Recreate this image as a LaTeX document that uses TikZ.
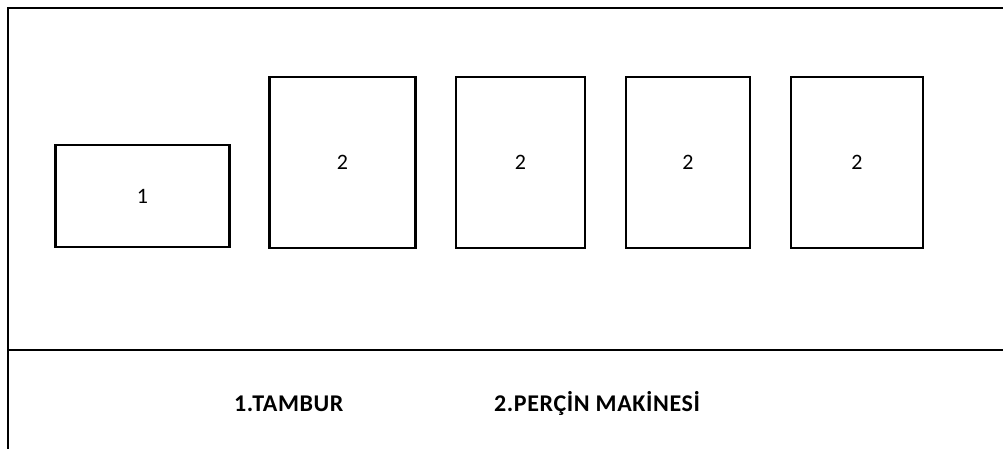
\documentclass[tikz,border=0pt]{standalone}
\usepackage{fontspec}
\setmainfont{Carlito}
\begin{document}
\begin{tikzpicture}[x=1pt,y=-1pt,
  unit/.style={draw,line width=2.5pt,inner sep=0pt,font=\fontsize{22}{26}\selectfont},
  legend/.style={font=\bfseries\fontsize{24}{28}\selectfont\addfontfeature{LetterSpace=2.5},
    anchor=base west,inner sep=0pt},
  frame/.style={line width=2.6pt}]
  \useasboundingbox (0,0) rectangle (1003,449);
  % outer frame and legend divider
  \draw[frame] (8,449) -- (8,8) -- (1003,8);
  \draw[line width=2.3pt] (8,350) -- (1003,350);
  % drum
  \node[unit,minimum width=174pt,minimum height=102pt] (tambur) at (142.5,196) {1};
  % rivet machines
  \node[unit,minimum width=146pt,minimum height=171pt] (m1) at (342.5,162.5) {2};
  \node[unit,minimum width=129pt,minimum height=171pt] (m2) at (520.5,162.5) {2};
  \node[unit,minimum width=124pt,minimum height=171pt] (m3) at (688,162.5) {2};
  \node[unit,minimum width=132pt,minimum height=171pt] (m4) at (857,162.5) {2};
  % legend
  \node[legend] (l1) at (234,411) {1.TAMBUR};
  \node[legend] (l2) at (494,411) {2.PERÇİN MAKİNESİ};
\end{tikzpicture}
\end{document}
